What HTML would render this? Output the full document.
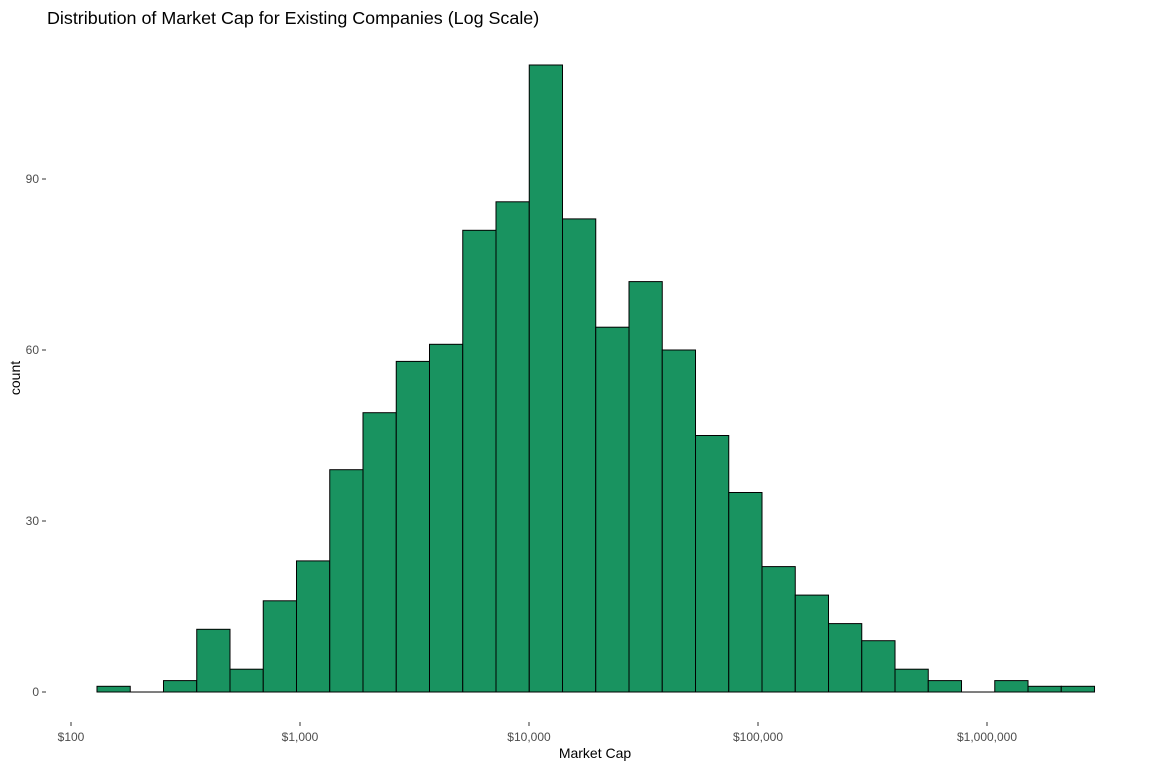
<!DOCTYPE html>
<html><head><meta charset="utf-8">
<style>
body{margin:0;background:#fff;}
svg{display:block;font-family:"Liberation Sans",Arial,sans-serif;}
</style></head>
<body>
<svg id="chart" width="1152" height="768">
<text x="47" y="24" font-size="17.9" fill="#000">Distribution of Market Cap for Existing Companies (Log Scale)</text>
<text x="595" y="758" font-size="14" text-anchor="middle" fill="#000">Market Cap</text>
<text transform="translate(20,378) rotate(-90)" font-size="14" text-anchor="middle" fill="#000">count</text>
<g id="bars"></g><g id="axes"></g>
</svg>
<script>
const counts=[1,0,2,11,4,16,23,39,49,58,61,81,86,110,83,64,72,60,45,35,22,17,12,9,4,2,0,2,1,1];
const binStartLog=2.1135;
const binWidthLog=0.1452;
const yTicks=[0,30,60,90];
const xTickLogs=[2,3,4,5,6];
const xTickLabels=["$100","$1,000","$10,000","$100,000","$1,000,000"];
const NS="http://www.w3.org/2000/svg";
const x=l=>71+(l-2)*229;
const y=v=>692-v*5.7;
const bars=document.getElementById('bars'),axes=document.getElementById('axes');
counts.forEach((c,i)=>{
  const x0=x(binStartLog+i*binWidthLog),x1=x(binStartLog+(i+1)*binWidthLog);
  const r=document.createElementNS(NS,'rect');
  r.setAttribute('x',x0);r.setAttribute('width',x1-x0);
  r.setAttribute('y',y(c));r.setAttribute('height',Math.max(692-y(c),0.01));
  r.setAttribute('fill','#199360');r.setAttribute('stroke','#000');r.setAttribute('stroke-width','1');
  
  
  bars.appendChild(r);
});
yTicks.forEach(v=>{
  const l=document.createElementNS(NS,'line');
  l.setAttribute('x1',42);l.setAttribute('x2',46);l.setAttribute('y1',y(v));l.setAttribute('y2',y(v));
  l.setAttribute('stroke','#333');
  
  
  axes.appendChild(l);
  const t=document.createElementNS(NS,'text');
  t.setAttribute('x',39);t.setAttribute('y',y(v)+4);t.setAttribute('text-anchor','end');
  t.setAttribute('font-size','12');t.setAttribute('fill','#4d4d4d');t.textContent=v;
  
  
  axes.appendChild(t);
});
xTickLogs.forEach((lg,i)=>{
  const l=document.createElementNS(NS,'line');
  l.setAttribute('x1',x(lg));l.setAttribute('x2',x(lg));l.setAttribute('y1',722);l.setAttribute('y2',726);
  l.setAttribute('stroke','#333');
  
  
  axes.appendChild(l);
  const t=document.createElementNS(NS,'text');
  t.setAttribute('x',x(lg));t.setAttribute('y',741);t.setAttribute('text-anchor','middle');
  t.setAttribute('font-size','12');t.setAttribute('fill','#4d4d4d');t.textContent=xTickLabels[i];
  
  
  axes.appendChild(t);
});
</script>
</body></html>
